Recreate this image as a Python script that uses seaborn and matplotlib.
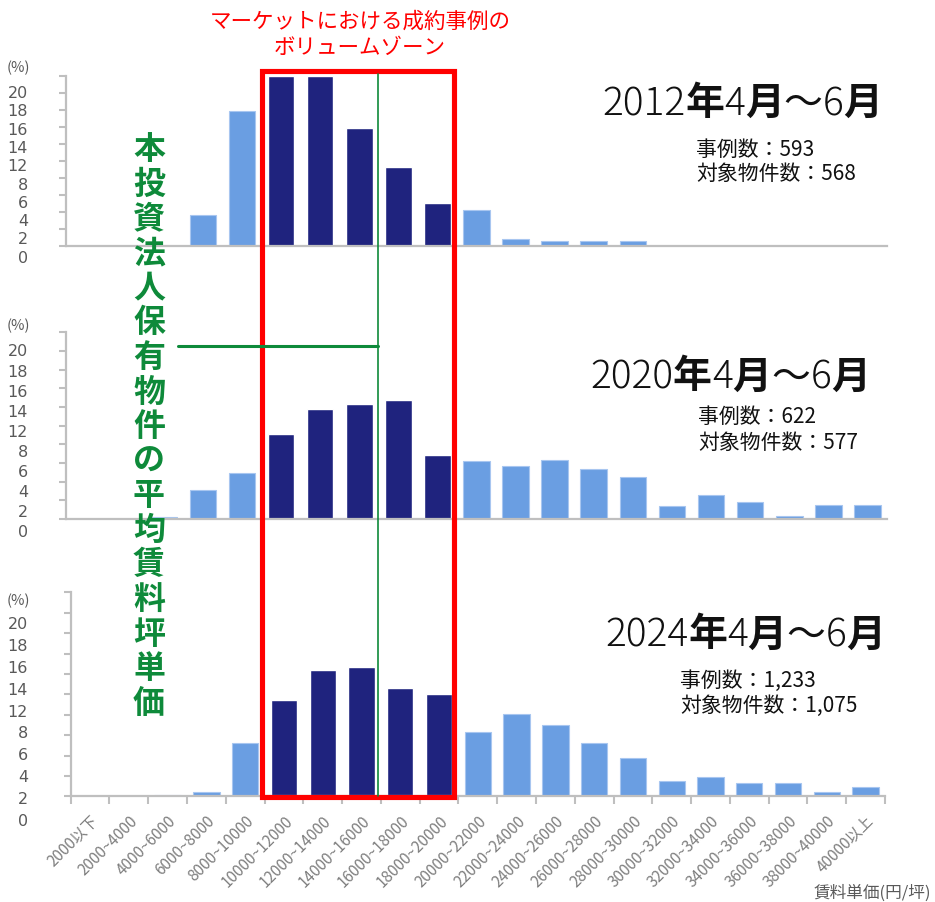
import numpy as np
import pandas as pd
import matplotlib.pyplot as plt
import matplotlib.transforms as mtransforms
from matplotlib.patches import Rectangle
from matplotlib.lines import Line2D
import seaborn as sns

# ---- data (in tick units: one tick = 2) ----
categories = ["2000以下", "2000~4000", "4000~6000", "6000~8000", "8000~10000",
              "10000~12000", "12000~14000", "14000~16000", "16000~18000",
              "18000~20000", "20000~22000", "22000~24000", "24000~26000",
              "26000~28000", "28000~30000", "30000~32000", "32000~34000",
              "34000~36000", "36000~38000", "38000~40000", "40000以上"]

share_2012 = [0, 0, 0, 3.6, 15.9, 20, 20, 13.8, 9.3, 5.0, 4.25, 0.74,
              0.51, 0.51, 0.51, 0, 0, 0, 0, 0, 0]
share_2020 = [0, 0, 0.18, 3.1, 4.9, 9.1, 11.8, 12.3, 12.7, 6.86, 6.18, 5.71,
              6.32, 5.36, 4.54, 1.36, 2.61, 1.86, 0.32, 1.54, 1.54]
share_2024 = [0, 0, 0.13, 0.46, 5.23, 9.44, 12.39, 12.68, 10.62, 10.03, 6.34,
              8.04, 6.96, 5.26, 3.76, 1.5, 1.86, 1.34, 1.34, 0.42, 0.88]

volume_zone = ["10000~12000", "12000~14000", "14000~16000", "16000~18000",
               "18000~20000"]

years = ["2012", "2020", "2024"]
case_counts = ["593", "622", "1,233"]
property_counts = ["568", "577", "1,075"]

ytick_labels = ["20", "18", "16", "14", "12", "8", "6", "4", "2", "0"]

light_blue = "#6A9EE2"
navy = "#1F237E"
axis_gray = "#BFBFBF"
green = "#0E8A3A"

sns.set_style("white")
plt.rcParams["font.family"] = ["Noto Sans CJK JP", "DejaVu Sans"]

W, H = 935, 903
fig = plt.figure(figsize=(W / 100, H / 100), dpi=100)


def fx(px):
    return px / W


def fy(py):
    return 1 - py / H


# panel boxes in pixels: left, top, right, bottom
boxes = [(66, 76.7, 887, 246.7), (66, 333.3, 887, 520), (70.7, 593.3, 885, 797.3)]
label_top = [0.90, 0.90, 0.848]
pct_y = [1.05, 1.04, 0.962]
title_pos = [(742, 115), (730, 388.5), (745, 646.5)]
count_pos = [(696, 150, 174), (698, 417, 443), (680, 681, 706)]

axes = []
for k, (vals, box) in enumerate(zip([share_2012, share_2020, share_2024], boxes)):
    l, t, r, b = box
    ax = fig.add_axes([fx(l), fy(b), (r - l) / W, (b - t) / H])
    df = pd.DataFrame({"cat": categories, "share": vals})
    df["zone"] = np.where(df["cat"].isin(volume_zone), "in", "out")
    sns.barplot(data=df, x="cat", y="share", hue="zone", order=categories,
                hue_order=["out", "in"], palette={"out": light_blue, "in": navy},
                dodge=False, width=0.68, saturation=1, legend=False, ax=ax)
    for p in ax.patches:
        if p.get_height() > 0 and p.get_facecolor()[2] > 0.8:
            p.set_edgecolor("#A8C6F0")
            p.set_linewidth(0.8)
    ax.set_xlim(-0.5, 20.5)
    ax.set_ylim(0, 20)
    ax.set_xlabel("")
    ax.set_ylabel("")
    ax.set_yticks(np.arange(0, 21, 2))
    ax.set_yticklabels([])
    ax.tick_params(axis="y", left=True, length=5, width=1.5, color=axis_gray,
                   direction="out", pad=0)
    for s in ["top", "right"]:
        ax.spines[s].set_visible(False)
    for s in ["left", "bottom"]:
        ax.spines[s].set_color(axis_gray)
        ax.spines[s].set_linewidth(1.6)
    ax.patch.set_alpha(0)

    # y labels as in the reference (shifted against the ticks)
    tr = mtransforms.blended_transform_factory(fig.transFigure, ax.transAxes)
    for i, lab in enumerate(ytick_labels):
        ax.text(fx(28), label_top[k] - 0.1075 * i, lab, transform=tr, ha="right",
                va="center", fontsize=11.5, color="#595959", family="DejaVu Sans",
                clip_on=False)
    ax.text(fx(7), pct_y[k], "(%)", transform=tr, ha="left", va="center",
            fontsize=10.5, color="#595959", clip_on=False)

    if k < 2:
        ax.set_xticks([])
    else:
        ax.set_xticks(range(len(categories)))
        ax.set_xticklabels(categories, rotation=45, ha="right", rotation_mode="anchor",
                           fontsize=11, color="#7F7F7F")
        ax.set_xticks(np.arange(-0.5, 21, 1), minor=True)
        ax.tick_params(axis="x", which="major", bottom=True, length=0, pad=11)
        ax.tick_params(axis="x", which="minor", bottom=True, length=6, width=1.5,
                       color=axis_gray, direction="out")
    axes.append(ax)

renderer = fig.canvas.get_renderer()


def rich_title(cx, base_py, parts, size):
    items = []
    for s, w in parts:
        t = fig.text(0, fy(base_py), s, fontsize=size, fontweight=w,
                     va="baseline", ha="left", color="#111111")
        items.append((t, t.get_window_extent(renderer).width))
    x = cx - sum(wd for _, wd in items) / 2
    for t, wd in items:
        t.set_x(fx(x))
        x += wd


for k, yr in enumerate(years):
    cx, by = title_pos[k]
    rich_title(cx, by, [(yr, "light"), ("年", "bold"), ("4", "light"), ("月", "bold"),
                        ("～", "normal"), ("6", "light"), ("月", "bold")], 28)
    x0, y1, y2 = count_pos[k]
    fig.text(fx(x0), fy(y1), "事例数：" + case_counts[k], fontsize=15,
             va="center", ha="left", color="#111111")
    fig.text(fx(x0), fy(y2), "対象物件数：" + property_counts[k], fontsize=15,
             va="center", ha="left", color="#111111")

# volume zone box and label
fig.patches.append(Rectangle((fx(261.7), fy(798)), fx(454) - fx(261.7), (798 - 72.3) / H,
                             transform=fig.transFigure, fill=False, edgecolor="#FF0000",
                             linewidth=3.7, zorder=5))
fig.text(fx(360), fy(22), "マーケットにおける成約事例の", fontsize=15.5, color="#FF0000",
         ha="center", va="center")
fig.text(fx(360), fy(48), "ボリュームゾーン", fontsize=15.5, color="#FF0000",
         ha="center", va="center")

# average rent of the REIT's properties
fig.lines.append(Line2D([fx(378), fx(378)], [fy(75), fy(797)], transform=fig.transFigure,
                        color=green, linewidth=1.2, zorder=6))
fig.lines.append(Line2D([fx(178), fx(378)], [fy(347), fy(347)], transform=fig.transFigure,
                        color=green, linewidth=2.2, zorder=6))
vert_label = "本投資法人保有物件の平均賃料坪単価"
for i, ch in enumerate(vert_label):
    fig.text(fx(149), fy(133 + 34.6 * (i + 0.5)), ch, fontsize=23, fontweight="bold",
             color=green, ha="center", va="center", zorder=7)

fig.text(fx(931), fy(893), "賃料単価(円/坪)", fontsize=12, color="#595959",
         ha="right", va="center")

fig.savefig("out.png", dpi=100)
